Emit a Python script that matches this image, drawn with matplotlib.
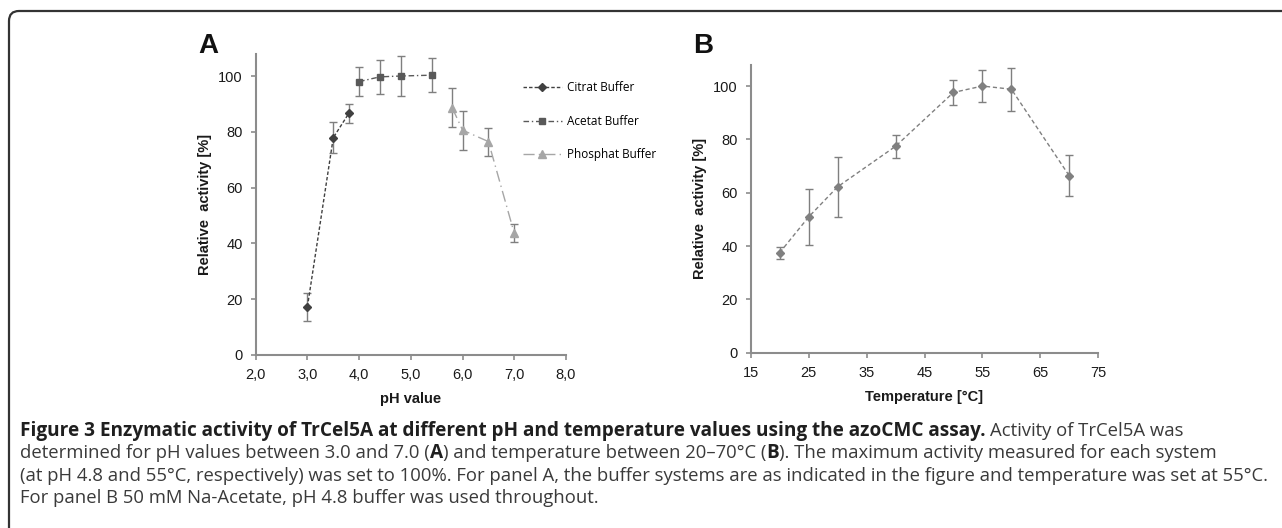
import numpy as np
import matplotlib
matplotlib.use('Agg')
import matplotlib.pyplot as plt
from matplotlib.path import Path
from matplotlib.patches import PathPatch

# ---- data, panel A (pH) ----
citrat_ph = [3.0, 3.5, 3.8]
citrat_act = [17.3, 77.9, 86.6]
citrat_err = [5.0, 5.6, 3.5]

acetat_ph = [4.0, 4.4, 4.8, 5.4]
acetat_act = [98.0, 99.7, 100.0, 100.3]
acetat_err = [5.3, 6.0, 7.2, 6.0]

phosphat_ph = [5.8, 6.0, 6.5, 7.0]
phosphat_act = [88.6, 80.6, 76.5, 43.6]
phosphat_err = [7.0, 7.0, 5.0, 3.2]

ph_ticks = [2.0, 3.0, 4.0, 5.0, 6.0, 7.0, 8.0]
ph_ticklabels = ['2,0', '3,0', '4,0', '5,0', '6,0', '7,0', '8,0']

# ---- data, panel B (temperature) ----
temp_c = [20, 25, 30, 40, 50, 55, 60, 70]
temp_act = [37.5, 50.9, 62.2, 77.4, 97.6, 100.0, 98.8, 66.3]
temp_err = [2.3, 10.6, 11.2, 4.2, 4.8, 6.0, 8.0, 7.7]
temp_ticks = [15, 25, 35, 45, 55, 65, 75]

act_ticks = [0, 20, 40, 60, 80, 100]

W, H = 1282, 528
AX_FONT = 'Liberation Sans'
CAP_FONT = ['Open Sans', 'DejaVu Sans']
SPINE = '#8c8c8c'
ERR = '#7f7f7f'

fig = plt.figure(figsize=(W / 100, H / 100), dpi=100)
fig.patch.set_facecolor('white')


def px_axes(left, right, top, bottom):
    return fig.add_axes([left / W, 1 - bottom / H, (right - left) / W, (bottom - top) / H])


def style_axes(ax):
    for s in ['top', 'right']:
        ax.spines[s].set_visible(False)
    for s in ['left', 'bottom']:
        ax.spines[s].set_color(SPINE)
        ax.spines[s].set_linewidth(1.5)
    ax.tick_params(direction='out', length=3.5, width=1.2, color=SPINE,
                   labelsize=10.5, labelcolor='#1a1a1a')
    ax.tick_params(axis='y', pad=6)
    ax.tick_params(axis='x', pad=6)
    ax.set_ylim(0, 108)
    ax.set_yticks(act_ticks)
    ax.set_yticklabels([str(v) for v in act_ticks], family=AX_FONT)
    ax.set_ylabel('Relative  activity [%]', family=AX_FONT, fontweight='bold',
                  fontsize=10.5, labelpad=4, color='#1a1a1a')


# ---- panel A ----
axA = px_axes(255.7, 566, 53.7, 355)
style_axes(axA)
axA.set_xlim(2, 8)
axA.set_xticks(ph_ticks)
axA.set_xticklabels(ph_ticklabels, family=AX_FONT)
axA.set_xlabel('pH value', family=AX_FONT, fontweight='bold', fontsize=10.5,
               labelpad=7, color='#1a1a1a')

series = [
    (citrat_ph, citrat_act, citrat_err, '#404040', 'D', 4.5, (0, (2.5, 1.5)), 'Citrat Buffer'),
    (acetat_ph, acetat_act, acetat_err, '#595959', 's', 5, (0, (4, 2, 1, 2)), 'Acetat Buffer'),
    (phosphat_ph, phosphat_act, phosphat_err, '#a6a6a6', '^', 6, (0, (8, 3, 1, 3)), 'Phosphat Buffer'),
]
handles = []
for x, y, e, col, mk, ms, ls, lab in series:
    axA.errorbar(x, y, yerr=e, fmt='none', ecolor=ERR, elinewidth=1,
                 capsize=3, capthick=1, zorder=2)
    h, = axA.plot(x, y, color=col, linestyle=ls, linewidth=1, marker=mk,
                  markersize=ms, markeredgecolor=col, label=lab, zorder=3)
    handles.append(h)

leg = fig.legend(handles=handles, loc='upper left',
                 bbox_to_anchor=(523 / W, 1 - 81 / H), frameon=False,
                 borderpad=0, borderaxespad=0, handlelength=3.3,
                 handletextpad=0.4, labelspacing=1.75,
                 prop={'family': CAP_FONT, 'size': 8.5})

fig.text(198 / W, 1 - 53 / H, 'A', family=AX_FONT, fontweight='bold',
         fontsize=20, va='baseline', color='#111111')

# ---- panel B ----
axB = px_axes(750.7, 1098.3, 64.7, 352.7)
style_axes(axB)
axB.set_xlim(15, 75)
axB.set_xticks(temp_ticks)
axB.set_xticklabels([str(v) for v in temp_ticks], family=AX_FONT)
axB.set_xlabel('Temperature [°C]', family=AX_FONT, fontweight='bold',
               fontsize=10.5, labelpad=7, color='#1a1a1a')
axB.errorbar(temp_c, temp_act, yerr=temp_err, fmt='none', ecolor=ERR,
             elinewidth=1, capsize=3, capthick=1, zorder=2)
axB.plot(temp_c, temp_act, color='#808080', linestyle=(0, (3, 2)), linewidth=1,
         marker='D', markersize=4.5, markeredgecolor='#808080', zorder=3)

fig.text(693 / W, 1 - 53 / H, 'B', family=AX_FONT, fontweight='bold',
         fontsize=20, va='baseline', color='#111111')

# ---- frame (top + left with rounded corner) ----
verts = [(9, H), (9, 21), (9, 11), (19, 11), (W, 11)]
codes = [Path.MOVETO, Path.LINETO, Path.CURVE3, Path.CURVE3, Path.LINETO]
verts = [(vx / W, 1 - vy / H) for vx, vy in verts]
fig.patches.append(PathPatch(Path(verts, codes), transform=fig.transFigure,
                             facecolor='none', edgecolor='#333333', lw=1.6))

# ---- caption ----
renderer = fig.canvas.get_renderer()

cap_lines = [
    [('Figure 3 Enzymatic activity of TrCel5A at different pH and temperature values using the azoCMC assay.', 'bold'),
     (' Activity of TrCel5A was', 'normal')],
    [('determined for pH values between 3.0 and 7.0 (', 'normal'), ('A', 'bold'),
     (') and temperature between 20–70°C (', 'normal'), ('B', 'bold'),
     ('). The maximum activity measured for each system', 'normal')],
    [('(at pH 4.8 and 55°C, respectively) was set to 100%. For panel A, the buffer systems are as indicated in the figure and temperature was set at 55°C.', 'normal')],
    [('For panel B 50 mM Na-Acetate, pH 4.8 buffer was used throughout.', 'normal')],
]


def text_w(s, weight, size):
    t = fig.text(0, 0, s, family=CAP_FONT, fontsize=size, fontweight=weight)
    w = t.get_window_extent(renderer).width
    t.remove()
    return w


# size the caption fonts so the lines span about the same width as in the figure
reg_size = 10 * 1253 / text_w(cap_lines[2][0][0], 'normal', 10)
bold_size = 10 * 967 / text_w(cap_lines[0][0][0], 'bold', 10)
sizes = {'normal': reg_size, 'bold': bold_size}


def space_w(weight):
    s = sizes[weight]
    return text_w('x x', weight, s) - text_w('xx', weight, s)


def draw_runs(x, y, runs):
    for txt, weight in runs:
        col = '#1f1f1f' if weight == 'bold' else '#3a3a3a'
        lead = len(txt) - len(txt.lstrip(' '))
        trail = len(txt) - len(txt.rstrip(' '))
        x += lead * space_w(weight)
        t = fig.text(x / W, 1 - y / H, txt.strip(' '), family=CAP_FONT,
                     fontsize=sizes[weight], fontweight=weight, color=col,
                     va='baseline')
        x += t.get_window_extent(renderer).width + trail * space_w(weight)


for i, runs in enumerate(cap_lines):
    draw_runs(20, 436 + i * 22.3, runs)

fig.savefig('out.png', dpi=100, facecolor='white')
